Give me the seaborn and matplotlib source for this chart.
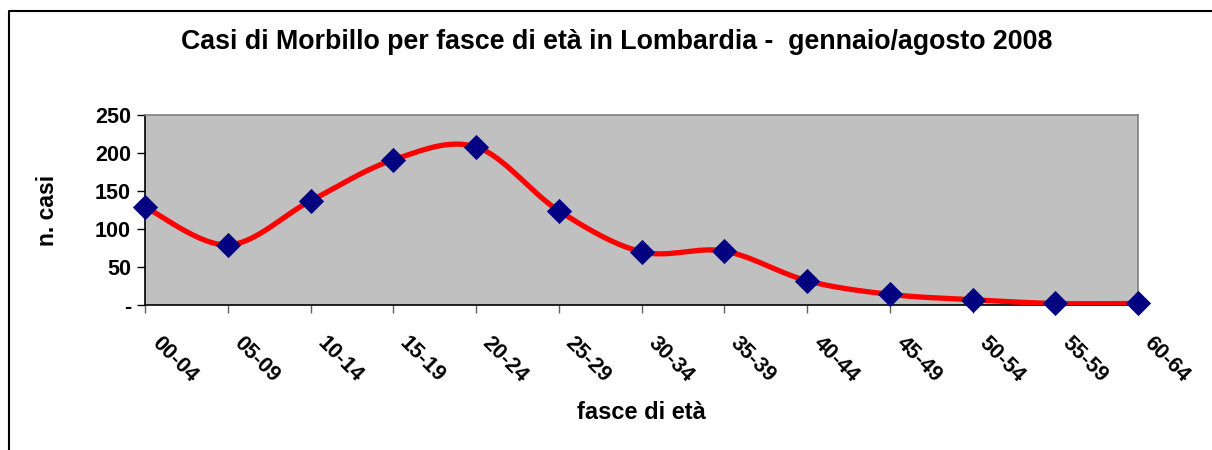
import numpy as np
import pandas as pd
import matplotlib
matplotlib.use("Agg")
import matplotlib.pyplot as plt
import seaborn as sns
from matplotlib.lines import Line2D

fasce = ['00-04', '05-09', '10-14', '15-19', '20-24', '25-29', '30-34',
         '35-39', '40-44', '45-49', '50-54', '55-59', '60-64']
casi = [129, 79, 137, 191, 208, 124, 70, 71, 32, 14, 7, 2, 2]
yticks = [0, 50, 100, 150, 200, 250]
ytick_labels = ['-', '50', '100', '150', '200', '250']

sns.set_style("white")
plt.rcParams['font.family'] = ['Liberation Sans', 'DejaVu Sans']
plt.rcParams['font.weight'] = 'bold'
plt.rcParams['text.color'] = 'black'
plt.rcParams['axes.labelcolor'] = 'black'
plt.rcParams['xtick.labelcolor'] = 'black'
plt.rcParams['ytick.labelcolor'] = 'black'


def smooth(xs, ys, n=30):
    # excel-like smoothed line (cubic bezier, catmull-rom control points)
    xs = np.asarray(xs, float)
    ys = np.asarray(ys, float)
    px = np.concatenate([[xs[0]], xs, [xs[-1]]])
    py = np.concatenate([[ys[0]], ys, [ys[-1]]])
    out_x, out_y = [], []
    t = np.linspace(0, 1, n)
    for i in range(1, len(px) - 2):
        p0 = np.array([px[i], py[i]])
        p3 = np.array([px[i + 1], py[i + 1]])
        c1 = p0 + (np.array([px[i + 1], py[i + 1]]) - np.array([px[i - 1], py[i - 1]])) / 6
        c2 = p3 - (np.array([px[i + 2], py[i + 2]]) - np.array([px[i], py[i]])) / 6
        b = ((1 - t) ** 3)[:, None] * p0 + (3 * (1 - t) ** 2 * t)[:, None] * c1 \
            + (3 * (1 - t) * t ** 2)[:, None] * c2 + (t ** 3)[:, None] * p3
        out_x.extend(b[:, 0])
        out_y.extend(b[:, 1])
    return np.array(out_x), np.array(out_y)


pos = np.arange(len(fasce))
sx, sy = smooth(pos, casi)
curve = pd.DataFrame({'x': sx, 'y': sy})
points = pd.DataFrame({'x': pos, 'y': casi})

fig = plt.figure(figsize=(12.12, 4.5), dpi=100)
ax = fig.add_axes([145 / 1212, 1 - 305 / 450, (1138 - 145) / 1212, 190 / 450])
ax.set_facecolor('#C0C0C0')

sns.lineplot(data=curve, x='x', y='y', ax=ax, color='#FF0000', linewidth=3.8,
             sort=False, estimator=None, zorder=3)
sns.scatterplot(data=points, x='x', y='y', ax=ax, marker='D', s=165,
                color='#000080', edgecolor='#000080', linewidth=0, zorder=4,
                clip_on=False)

ax.set_xlim(0, len(fasce) - 1)
ax.set_ylim(0, 250)
ax.set_xticks(pos)
ax.set_xticklabels(fasce, rotation=-45, ha='left', va='top',
                   rotation_mode='anchor', fontsize=15.5, fontweight='bold')
ax.set_yticks(yticks)
ax.set_yticklabels(ytick_labels, fontsize=15.5, fontweight='bold')
ax.tick_params(axis='x', direction='out', length=6, width=1, color='#606060',
               pad=14, bottom=True)
ax.tick_params(axis='y', direction='out', length=6, width=1, color='black',
               pad=4, left=True)
for lbl in ax.get_xticklabels():
    lbl.set_transform(lbl.get_transform() + matplotlib.transforms.ScaledTranslation(17 / 100, 0, fig.dpi_scale_trans))

for side in ['top', 'right']:
    ax.spines[side].set_color('#808080')
    ax.spines[side].set_linewidth(1.2)
for side in ['left', 'bottom']:
    ax.spines[side].set_color('black')
    ax.spines[side].set_linewidth(1.2)
    ax.spines[side].set_zorder(2)

ax.set_xlabel('fasce di età', fontsize=17, fontweight='bold', labelpad=10)
ax.set_ylabel('n. casi', fontsize=16.5, fontweight='bold', labelpad=26)
fig.text(617 / 1212, 1 - 42 / 450, 'Casi di Morbillo per fasce di età in Lombardia -  gennaio/agosto 2008',
         ha='center', va='center', fontsize=19.3, fontweight='bold')

# outer chart frame
fig.add_artist(Line2D([9 / 1212, 9 / 1212, 1.0], [0.0, 1 - 11 / 450, 1 - 11 / 450],
                      transform=fig.transFigure, color='black', linewidth=1.5))

fig.savefig('out.png', dpi=100)
